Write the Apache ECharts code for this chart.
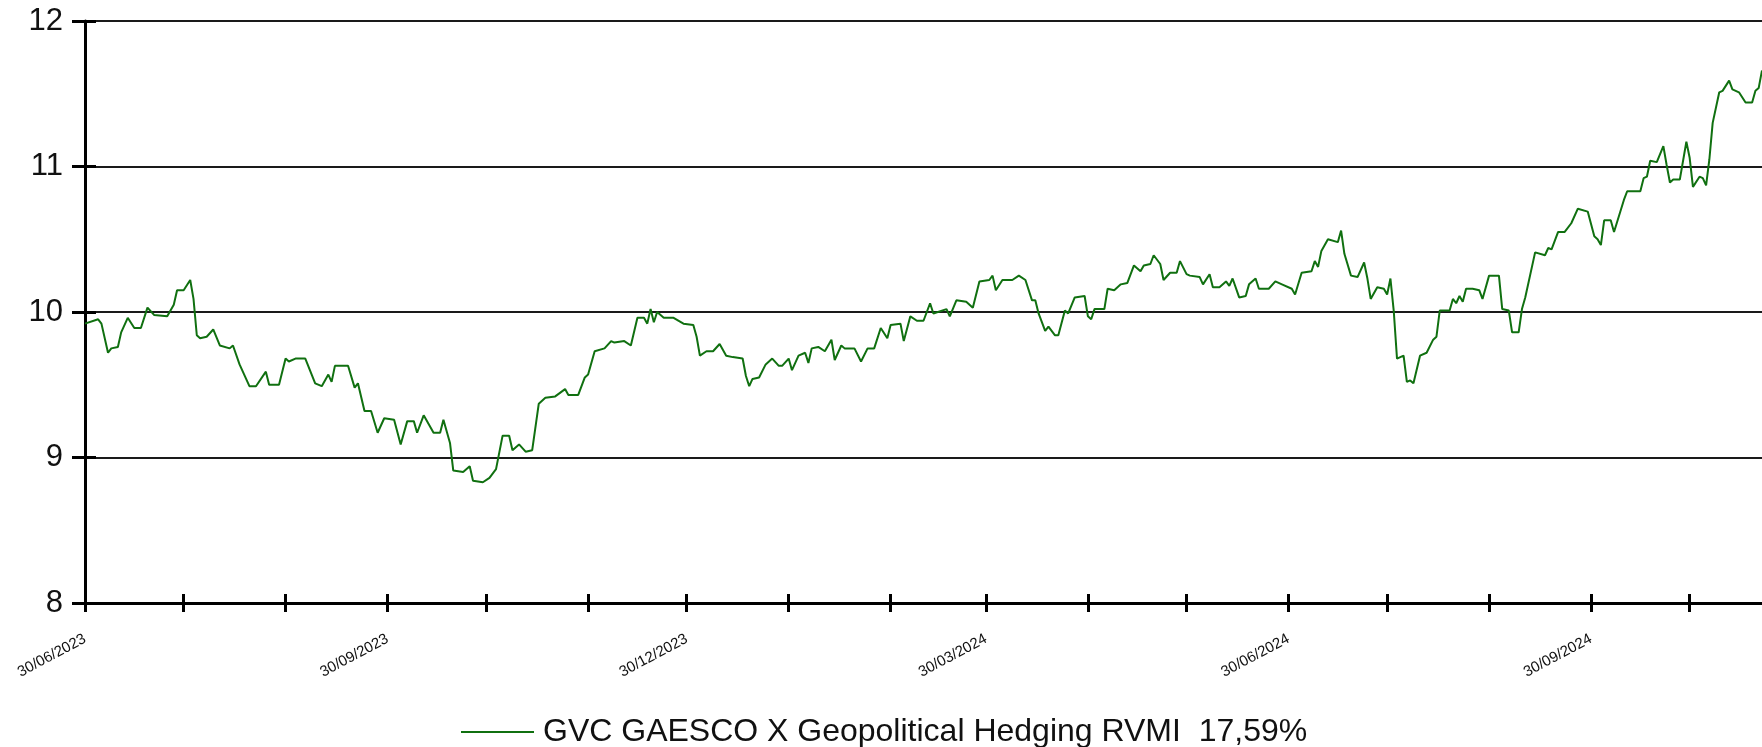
<!DOCTYPE html>
<html>
<head>
<meta charset="utf-8">
<title>GVC GAESCO X Geopolitical Hedging RVMI</title>
<script src="https://cdn.jsdelivr.net/npm/echarts@6.0.0/dist/echarts.min.js"></script>
<style>
  html, body { margin: 0; padding: 0; background: #fff; }
  #chart { width: 1762px; height: 747px; }
</style>
</head>
<body>
<div id="chart"></div>
<script>
// 系列名称（图例）
var SERIES_NAME = 'GVC GAESCO X Geopolitical Hedging RVMI  17,59%';

// 日期（按月一行，与 values 一一对应）
var dates = [
  '2023-06-30','2023-07-04','2023-07-05','2023-07-07','2023-07-08','2023-07-10','2023-07-11','2023-07-13','2023-07-15','2023-07-17','2023-07-19','2023-07-21','2023-07-25','2023-07-27','2023-07-28','2023-07-30',
  '2023-08-01','2023-08-02','2023-08-03','2023-08-04','2023-08-06','2023-08-08','2023-08-10','2023-08-13','2023-08-14','2023-08-16','2023-08-19','2023-08-21','2023-08-24','2023-08-25','2023-08-28','2023-08-30','2023-08-31',
  '2023-09-02','2023-09-05','2023-09-08','2023-09-10','2023-09-12','2023-09-13','2023-09-14','2023-09-18','2023-09-20','2023-09-21','2023-09-23','2023-09-25','2023-09-27','2023-09-29',
  '2023-10-02','2023-10-04','2023-10-06','2023-10-08','2023-10-09','2023-10-11','2023-10-14','2023-10-16','2023-10-17','2023-10-19','2023-10-20','2023-10-23','2023-10-25','2023-10-26','2023-10-29','2023-10-31',
  '2023-11-02','2023-11-04','2023-11-06','2023-11-07','2023-11-09','2023-11-11','2023-11-13','2023-11-15','2023-11-17','2023-11-20','2023-11-23','2023-11-24','2023-11-27','2023-11-29','2023-11-30',
  '2023-12-02','2023-12-05','2023-12-07','2023-12-08','2023-12-11','2023-12-13','2023-12-15','2023-12-17','2023-12-18','2023-12-19','2023-12-20','2023-12-21','2023-12-23','2023-12-26','2023-12-29',
  '2024-01-01','2024-01-02','2024-01-03','2024-01-05','2024-01-07','2024-01-09','2024-01-11','2024-01-13','2024-01-16','2024-01-17','2024-01-18','2024-01-19','2024-01-21','2024-01-23','2024-01-25','2024-01-27','2024-01-28','2024-01-30','2024-01-31',
  '2024-02-02','2024-02-04','2024-02-05','2024-02-06','2024-02-08','2024-02-10','2024-02-12','2024-02-13','2024-02-15','2024-02-16','2024-02-19','2024-02-21','2024-02-23','2024-02-25','2024-02-27','2024-02-29',
  '2024-03-01','2024-03-04','2024-03-05','2024-03-07','2024-03-09','2024-03-11','2024-03-13','2024-03-14','2024-03-18','2024-03-19','2024-03-21','2024-03-24','2024-03-26','2024-03-28','2024-03-31',
  '2024-04-01','2024-04-02','2024-04-04','2024-04-07','2024-04-09','2024-04-11','2024-04-13','2024-04-14','2024-04-15','2024-04-17','2024-04-18','2024-04-20','2024-04-21','2024-04-23','2024-04-24','2024-04-26','2024-04-29','2024-04-30',
  '2024-05-01','2024-05-02','2024-05-05','2024-05-06','2024-05-08','2024-05-10','2024-05-12','2024-05-14','2024-05-16','2024-05-17','2024-05-19','2024-05-20','2024-05-22','2024-05-23','2024-05-25','2024-05-27','2024-05-28','2024-05-30','2024-05-31',
  '2024-06-03','2024-06-04','2024-06-06','2024-06-07','2024-06-09','2024-06-11','2024-06-12','2024-06-13','2024-06-15','2024-06-17','2024-06-18','2024-06-20','2024-06-21','2024-06-24','2024-06-26','2024-06-28',
  '2024-07-01','2024-07-02','2024-07-04','2024-07-07','2024-07-08','2024-07-09','2024-07-10','2024-07-12','2024-07-15','2024-07-16','2024-07-17','2024-07-19','2024-07-21','2024-07-23','2024-07-24','2024-07-25','2024-07-27','2024-07-29','2024-07-30','2024-07-31',
  '2024-08-01','2024-08-02','2024-08-04','2024-08-05','2024-08-06','2024-08-07','2024-08-09','2024-08-11','2024-08-13','2024-08-14','2024-08-15','2024-08-18','2024-08-19','2024-08-20','2024-08-21','2024-08-22','2024-08-23','2024-08-25','2024-08-27','2024-08-28','2024-08-30','2024-08-31',
  '2024-09-02','2024-09-03','2024-09-05','2024-09-06','2024-09-08','2024-09-09','2024-09-10','2024-09-13','2024-09-16','2024-09-17','2024-09-18','2024-09-20','2024-09-22','2024-09-24','2024-09-26','2024-09-29',
  '2024-10-01','2024-10-02','2024-10-03','2024-10-04','2024-10-06','2024-10-07','2024-10-10','2024-10-11','2024-10-15','2024-10-16','2024-10-17','2024-10-18','2024-10-20','2024-10-22','2024-10-23','2024-10-24','2024-10-25','2024-10-27','2024-10-29','2024-10-30','2024-10-31',
  '2024-11-02','2024-11-03','2024-11-04','2024-11-05','2024-11-06','2024-11-08','2024-11-09','2024-11-11','2024-11-12','2024-11-14','2024-11-16','2024-11-18','2024-11-19','2024-11-20','2024-11-21'
];

// 净值
var values = [
  9.92, 9.95, 9.92, 9.72, 9.75, 9.76, 9.86, 9.96, 9.89, 9.89, 10.03, 9.98, 9.97, 10.05, 10.15, 10.15,
  10.22, 10.09, 9.84, 9.82, 9.83, 9.88, 9.77, 9.75, 9.77, 9.64, 9.49, 9.49, 9.59, 9.50, 9.50, 9.68, 9.66,
  9.68, 9.68, 9.51, 9.49, 9.57, 9.52, 9.63, 9.63, 9.48, 9.51, 9.32, 9.32, 9.17, 9.27,
  9.26, 9.09, 9.25, 9.25, 9.17, 9.29, 9.17, 9.17, 9.26, 9.10, 8.91, 8.90, 8.94, 8.84, 8.83, 8.86,
  8.92, 9.15, 9.15, 9.05, 9.09, 9.04, 9.05, 9.37, 9.41, 9.42, 9.47, 9.43, 9.43, 9.55, 9.57,
  9.73, 9.75, 9.80, 9.79, 9.80, 9.77, 9.96, 9.96, 9.92, 10.02, 9.93, 10.00, 9.96, 9.96, 9.92,
  9.91, 9.83, 9.70, 9.73, 9.73, 9.78, 9.70, 9.69, 9.68, 9.56, 9.49, 9.54, 9.55, 9.64, 9.68, 9.63, 9.63, 9.68, 9.60,
  9.70, 9.72, 9.65, 9.75, 9.76, 9.73, 9.81, 9.67, 9.77, 9.75, 9.75, 9.66, 9.75, 9.75, 9.89, 9.82,
  9.91, 9.92, 9.80, 9.97, 9.94, 9.94, 10.06, 9.99, 10.02, 9.97, 10.08, 10.07, 10.03, 10.21, 10.22,
  10.25, 10.15, 10.22, 10.22, 10.25, 10.22, 10.08, 10.08, 9.99, 9.87, 9.90, 9.84, 9.84, 10.01, 9.99, 10.10, 10.11, 9.97,
  9.95, 10.02, 10.02, 10.16, 10.15, 10.19, 10.20, 10.32, 10.28, 10.32, 10.33, 10.39, 10.33, 10.22, 10.27, 10.27, 10.35, 10.26, 10.25,
  10.24, 10.19, 10.26, 10.17, 10.17, 10.21, 10.18, 10.23, 10.10, 10.11, 10.19, 10.23, 10.16, 10.16, 10.21, 10.19,
  10.16, 10.12, 10.27, 10.28, 10.35, 10.31, 10.42, 10.50, 10.48, 10.56, 10.40, 10.25, 10.24, 10.34, 10.23, 10.09, 10.17, 10.16, 10.12, 10.23,
  10.01, 9.68, 9.70, 9.52, 9.53, 9.51, 9.70, 9.72, 9.81, 9.83, 10.01, 10.01, 10.09, 10.06, 10.11, 10.07, 10.16, 10.16, 10.15, 10.09, 10.25, 10.25,
  10.25, 10.02, 10.01, 9.86, 9.86, 10.02, 10.10, 10.41, 10.39, 10.44, 10.43, 10.55, 10.55, 10.61, 10.71, 10.69,
  10.52, 10.50, 10.46, 10.63, 10.63, 10.55, 10.77, 10.83, 10.83, 10.92, 10.93, 11.04, 11.03, 11.14, 11.01, 10.89, 10.91, 10.91, 11.17, 11.06, 10.86,
  10.93, 10.92, 10.87, 11.05, 11.30, 11.51, 11.52, 11.59, 11.53, 11.51, 11.44, 11.44, 11.52, 11.54, 11.66
];

// 横轴刻度（每月）与标注（每季度）
var tickDates = [
  '2023-06-30','2023-07-30','2023-08-30','2023-09-30','2023-10-30','2023-11-30','2023-12-30',
  '2024-01-30','2024-03-01','2024-03-30','2024-04-30','2024-05-30','2024-06-30','2024-07-30',
  '2024-08-30','2024-09-30','2024-10-30'
];
var labelDates = ['2023-06-30','2023-09-30','2023-12-30','2024-03-30','2024-06-30','2024-09-30'];
var X_MIN = '2023-06-30';
var X_MAX = '2024-11-21';
var Y_MIN = 8, Y_MAX = 12, Y_STEP = 1;

var LINE_COLOR = '#107010';
var FONT = '"Liberation Sans", Arial, sans-serif';

// 日期字符串转时间戳（本地时区）
function toTime(s) {
  var p = s.split('-');
  return new Date(+p[0], +p[1] - 1, +p[2]).getTime();
}
function pad(n) { return n < 10 ? '0' + n : '' + n; }
function fmtDate(v) {
  var d = new Date(v);
  return pad(d.getDate()) + '/' + pad(d.getMonth() + 1) + '/' + d.getFullYear();
}

var points = dates.map(function(d, i) { return [toTime(d), values[i]]; });
var tickTimes = tickDates.map(toTime);
var labelTimes = labelDates.map(toTime);

var chart = echarts.init(document.getElementById('chart'), null, { renderer: 'canvas' });

// 横轴用数值轴承载时间戳，方便自定义刻度位置
var baseX = {
  type: 'value',
  min: toTime(X_MIN),
  max: toTime(X_MAX),
  position: 'bottom',
  splitLine: { show: false }
};
var baseY = {
  type: 'value',
  min: Y_MIN,
  max: Y_MAX,
  interval: Y_STEP,
  position: 'left'
};

var option = {
  animation: false,
  backgroundColor: '#fff',
  grid: { left: 85, right: 0, top: 21, bottom: 144, containLabel: false, outerBoundsMode: 'none' },
  xAxis: [
    Object.assign({}, baseX, {
      axisLine: { show: true, lineStyle: { color: '#000', width: 3 } },
      axisTick: { show: true, customValues: tickTimes, length: 9, lineStyle: { color: '#000', width: 3 } },
      axisLabel: {
        show: true,
        customValues: labelTimes,
        formatter: function(v) { return fmtDate(v); },
        rotate: 28,
        margin: 35,
        fontSize: 15,
        fontFamily: FONT,
        color: '#111'
      }
    }),
    // 刻度穿过轴线（向内的半段）
    Object.assign({}, baseX, {
      axisLine: { show: false },
      axisTick: { show: true, inside: true, customValues: tickTimes, length: 9, lineStyle: { color: '#000', width: 3 } },
      axisLabel: { show: false }
    })
  ],
  yAxis: [
    Object.assign({}, baseY, {
      axisLine: { show: true, lineStyle: { color: '#000', width: 3 } },
      axisTick: { show: true, length: 13, lineStyle: { color: '#000', width: 3 } },
      axisLabel: { margin: 22, fontSize: 31, fontFamily: FONT, color: '#111' },
      splitLine: { show: true, lineStyle: { color: '#1a1a1a', width: 2 } }
    }),
    Object.assign({}, baseY, {
      axisLine: { show: false },
      axisTick: { show: true, inside: true, length: 11, lineStyle: { color: '#000', width: 3 } },
      axisLabel: { show: false },
      splitLine: { show: false }
    })
  ],
  legend: {
    data: [SERIES_NAME],
    left: 456,
    top: 711,
    icon: 'rect',
    itemWidth: 73,
    itemHeight: 2,
    textStyle: { fontSize: 32, fontFamily: FONT, color: '#111', padding: [0, 0, 0, 4] }
  },
  series: [{
    name: SERIES_NAME,
    type: 'line',
    xAxisIndex: 0,
    yAxisIndex: 0,
    data: points,
    showSymbol: false,
    symbol: 'none',
    lineStyle: { color: LINE_COLOR, width: 2 },
    itemStyle: { color: LINE_COLOR }
  }]
};

chart.setOption(option);
</script>
</body>
</html>
